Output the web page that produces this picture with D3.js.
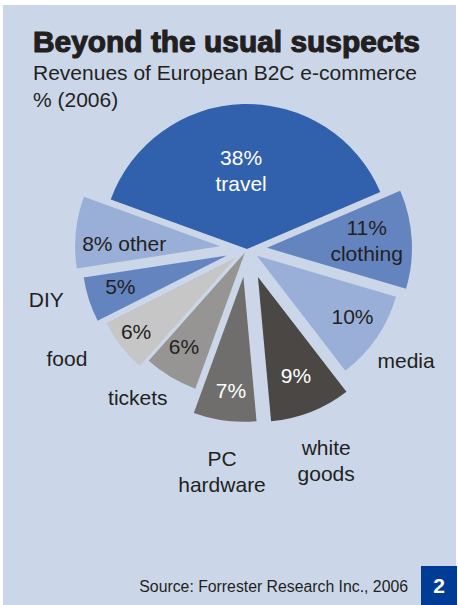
<!DOCTYPE html>
<html lang="en">
<head>
<meta charset="utf-8">
<title>Beyond the usual suspects</title>
<script src="https://d3js.org/d3.v7.min.js"></script>
<style>
  body{margin:0;background:#fff;font-family:"Liberation Sans",Arial,Helvetica,sans-serif;}
</style>
</head>
<body>
<div id="chart"></div>
<script>
// data
var categories = ["travel","clothing","media","white goods","PC hardware","tickets","food","DIY","other"]
var shares = [38,11,10,9,7,6,6,5,8]
var insideLabels = [["38%","travel"],["11%","clothing"],["10%"],["9%"],["7%"],["6%"],["6%"],["5%"],["8% other"]]
var outsideLabels = [[],[],["media"],["white","goods"],["PC","hardware"],["tickets"],["food"],["DIY"],[]]

// styling per slice
var colors = ["#3161ad","#6484c0","#9aafd7","#4b4745","#706e6c","#979593","#c6c6c6","#6484c0","#9aafd7"]
var textColors = ["#fff","#231f20","#231f20","#fff","#fff","#231f20","#231f20","#231f20","#231f20"]
var explode = [0,20,12,30,28,4,14,21,27]
var inR = [79,120,125,136,142,116,138,132,123]
var inNudge = [-2.7,-0.9,-2,0.3,-0.9,2.1,1.1,1.5,-2.8]
var outR = [0,0,194,226,224,184,211,207,0]
var outNudge = [0,0,0.5,0.9,-1,5.6,6.2,3.6,0]

var w = 458, h = 605
var cx = 247, cy = 249, r = 145
var rad = Math.PI/180

var svg = d3.select("#chart").append("svg").attr("width",w).attr("height",h)

svg.append("rect").attr("x",3).attr("y",5).attr("width",453).attr("height",600).attr("fill","#cbd7e9")

svg.append("text").attr("x",33).attr("y",52)
  .attr("font-size",29).attr("font-weight","bold").attr("fill","#231f20")
  .attr("stroke","#231f20").attr("stroke-width",1.1)
  .attr("textLength",387).attr("lengthAdjust","spacingAndGlyphs")
  .text("Beyond the usual suspects")
svg.append("text").attr("x",33).attr("y",80).attr("font-size",21).attr("fill","#231f20")
  .text("Revenues of European B2C e-commerce")
svg.append("text").attr("x",33).attr("y",107).attr("font-size",21).attr("fill","#231f20")
  .text("% (2006)")

var pie = d3.pie().sort(null).value(function(d){return d})
  .startAngle(-70*rad).endAngle(290*rad)
var arcs = pie(shares)
var arc = d3.arc().innerRadius(0).outerRadius(r)

var g = svg.append("g").attr("transform","translate("+cx+","+cy+")")

function polar(a, rr){ return [Math.sin(a)*rr, -Math.cos(a)*rr] }

g.selectAll("path").data(arcs).enter().append("path")
  .attr("d",arc)
  .attr("fill",function(d,i){return colors[i]})
  .attr("transform",function(d,i){
    var p = polar((d.startAngle+d.endAngle)/2, explode[i])
    return "translate("+p[0]+","+p[1]+")"
  })

function addLines(sel, lines, x, y, color){
  var n = lines.length
  lines.forEach(function(t,k){
    sel.append("text").attr("x",x).attr("y",y+(k-(n-1)/2)*26)
      .attr("dy","0.36em").attr("text-anchor","middle")
      .attr("font-size",21).attr("fill",color).text(t)
  })
}

arcs.forEach(function(d,i){
  var mid = (d.startAngle+d.endAngle)/2
  var p = polar(mid+inNudge[i]*rad, inR[i])
  addLines(g, insideLabels[i], p[0], p[1], textColors[i])
  if(outsideLabels[i].length){
    var q = polar(mid+outNudge[i]*rad, outR[i])
    addLines(g, outsideLabels[i], q[0], q[1], "#231f20")
  }
})

svg.append("text").attr("x",408).attr("y",592).attr("text-anchor","end")
  .attr("font-size",15.8).attr("fill","#231f20")
  .text("Source: Forrester Research Inc., 2006")
svg.append("rect").attr("x",421).attr("y",566).attr("width",36).attr("height",39).attr("fill","#003c96")
svg.append("text").attr("x",439).attr("y",593).attr("text-anchor","middle")
  .attr("font-size",21).attr("font-weight","bold").attr("fill","#fff").text("2")
</script>
</body>
</html>
